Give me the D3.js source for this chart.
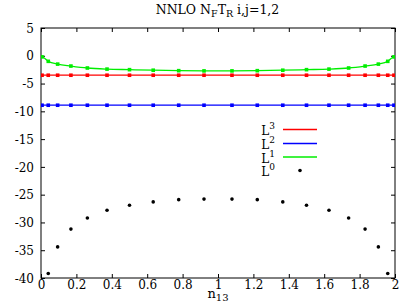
<!DOCTYPE html>
<html><head><meta charset="utf-8">
<script src="https://cdn.jsdelivr.net/npm/d3@7/dist/d3.min.js"></script>
<style>body{margin:0;background:#fff}svg text{font-family:"DejaVu Serif",serif;fill:#000}</style>
</head><body><svg id="c" width="405" height="304"></svg>
<script>
const xTicks = [0,0.2,0.4,0.6,0.8,1,1.2,1.4,1.6,1.8,2];
const xTickLabels = ["0","0.2","0.4","0.6","0.8","1","1.2","1.4","1.6","1.8","2"];
const yTicks = [5,0,-5,-10,-15,-20,-25,-30,-35,-40];
const yTickLabels = ["5","0","-5","-10","-15","-20","-25","-30","-35","-40"];
const nodes = [0.041,0.094,0.169,0.262,0.373,0.5,0.634,0.778,0.921,1.079,1.222,1.366,1.5,1.627,1.738,1.831,1.906,1.959];
const lineX = [0.006,0.041,0.094,0.169,0.262,0.373,0.5,0.634,0.778,0.921,1.079,1.222,1.366,1.5,1.627,1.738,1.831,1.906,1.959,1.994];
const L3 = [-3.5,-3.5,-3.5,-3.5,-3.5,-3.5,-3.5,-3.5,-3.5,-3.5,-3.5,-3.5,-3.5,-3.5,-3.5,-3.5,-3.5,-3.5,-3.5,-3.5];
const L2 = [-8.9,-8.9,-8.9,-8.9,-8.9,-8.9,-8.9,-8.9,-8.9,-8.9,-8.9,-8.9,-8.9,-8.9,-8.9,-8.9,-8.9,-8.9,-8.9,-8.9];
const L1 = [-0.2,-1.0,-1.5,-1.85,-2.2,-2.4,-2.5,-2.6,-2.68,-2.72,-2.72,-2.68,-2.6,-2.5,-2.4,-2.2,-1.85,-1.5,-1.0,-0.2];
const L0 = [-39.2,-34.4,-31.2,-29.2,-27.8,-26.9,-26.3,-25.9,-25.8,-25.8,-25.9,-26.3,-26.9,-27.8,-29.2,-31.2,-34.4,-39.2];
const seriesNames = ["3","2","1","0"];
const colors = ["#ff0000","#0000ff","#00ee00","#000000"];

const svg = d3.select("#c");
const m = {l:41, r:395, t:28, b:278};
const x = d3.scaleLinear().domain([0,2]).range([m.l,m.r]);
const y = d3.scaleLinear().domain([-40,5]).range([m.b,m.t]);

const fs = 12;
const bx = svg.append("g").attr("transform",`translate(0,${m.b})`)
  .call(d3.axisBottom(x).tickValues(xTicks).tickFormat((d,i)=>xTickLabels[i]).tickSizeInner(-4).tickSizeOuter(0).tickPadding(2));
const tx = svg.append("g").attr("transform",`translate(0,${m.t})`)
  .call(d3.axisTop(x).tickValues(xTicks).tickFormat("").tickSizeInner(-4).tickSizeOuter(0));
const ly = svg.append("g").attr("transform",`translate(${m.l},0)`)
  .call(d3.axisLeft(y).tickValues(yTicks).tickFormat((d,i)=>yTickLabels[i]).tickSizeInner(-4).tickSizeOuter(0).tickPadding(7));
const ry = svg.append("g").attr("transform",`translate(${m.r},0)`)
  .call(d3.axisRight(y).tickValues(yTicks).tickFormat("").tickSizeInner(-4).tickSizeOuter(0));
[bx,tx,ly,ry].forEach(g=>{g.attr("font-family","DejaVu Serif");g.selectAll(".domain").remove();g.selectAll("line").attr("stroke","#000");g.selectAll("text").attr("font-size",fs).attr("font-family","DejaVu Serif");});
bx.selectAll(".tick text").attr("y",2).attr("dy","0.76em");
ly.selectAll(".tick text").attr("dy","0.35em");
svg.append("rect").attr("x",m.l).attr("y",m.t).attr("width",m.r-m.l).attr("height",m.b-m.t)
  .attr("fill","none").attr("stroke","#000").attr("stroke-width",1);

svg.append("clipPath").attr("id","pc").append("rect").attr("x",m.l).attr("y",m.t).attr("width",m.r-m.l).attr("height",m.b-m.t);
const plot = svg.append("g").attr("clip-path","url(#pc)");

const lineSeries = [L3,L2,L1];
lineSeries.forEach((vals,si)=>{
  const pts = lineX.map((d,i)=>[d,vals[i]]);
  const ext = [[0,vals[0]],...pts,[2,vals[vals.length-1]]];
  plot.append("path").datum(ext).attr("fill","none").attr("stroke",colors[si]).attr("stroke-width",1.3)
    .attr("d",d3.line().x(d=>x(d[0])).y(d=>y(d[1])).curve(d3.curveMonotoneX));
  plot.selectAll(null).data(pts).enter().append("rect")
    .attr("x",d=>x(d[0])-1.8).attr("y",d=>y(d[1])-1.8).attr("width",3.6).attr("height",3.6).attr("fill",colors[si]);
});
plot.selectAll(null).data(nodes.map((d,i)=>[d,L0[i]])).enter().append("circle")
  .attr("cx",d=>x(d[0])).attr("cy",d=>y(d[1])).attr("r",1.8).attr("fill","#000");

// legend
const leg = svg.append("g");
const legY = [129.5,143.5,157,170.5];
seriesNames.forEach((n,i)=>{
  const yy = legY[i];
  if(i<3){
    leg.append("line").attr("x1",283).attr("x2",317).attr("y1",yy).attr("y2",yy)
      .style("stroke",colors[i]).attr("stroke-width",1.5);
  } else {
    leg.append("circle").attr("cx",300).attr("cy",yy).attr("r",1.8).attr("fill","#000");
  }
  const t = leg.append("text").attr("x",275).attr("y",yy+5.5).attr("text-anchor","end").attr("font-size",12);
  t.append("tspan").text("L");
  t.append("tspan").attr("dy",-6).attr("font-size",9).text(n);
});

// title
const title = svg.append("text").attr("x",217.5).attr("y",14).attr("text-anchor","middle").attr("font-size",12.5);
title.append("tspan").text("NNLO N");
title.append("tspan").attr("dy",3).attr("font-size",9.5).text("F");
title.append("tspan").attr("dy",-3).text("T");
title.append("tspan").attr("dy",3).attr("font-size",9.5).text("R");
title.append("tspan").attr("dy",-3).text(" i,j=1,2");

// x label
const xl = svg.append("text").attr("x",218).attr("y",298).attr("text-anchor","middle").attr("font-size",13);
xl.append("tspan").text("n");
xl.append("tspan").attr("dy",3).attr("font-size",10).text("13");
</script></body></html>
